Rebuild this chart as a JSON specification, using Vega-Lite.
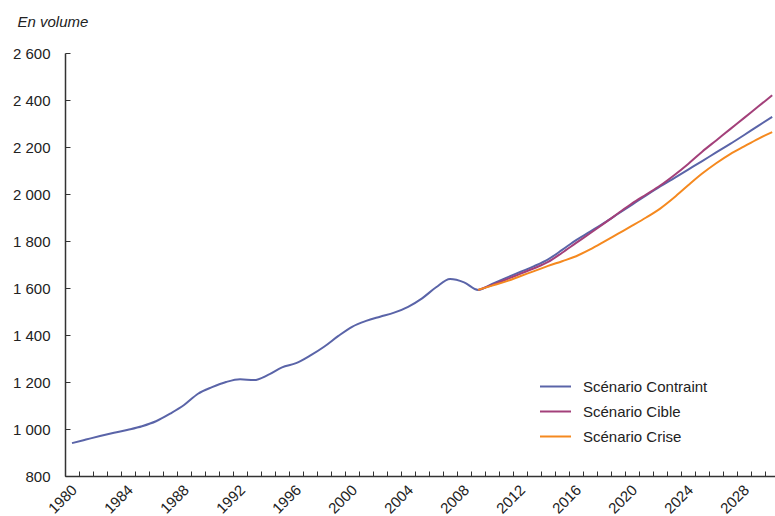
{
  "$schema": "https://vega.github.io/schema/vega-lite/v6.json",
  "width": 710,
  "height": 423,
  "autosize": {"type": "none"},
  "padding": {"left": 65, "top": 53, "right": 0, "bottom": 40},
  "background": "white",
  "config": {
    "view": {"stroke": null},
    "font": "Liberation Sans, Arial, sans-serif"
  },
  "data": {
    "values": [
      {"year": 1980, "value": 940, "series": "Scénario Contraint"},
      {"year": 1981, "value": 955, "series": "Scénario Contraint"},
      {"year": 1982, "value": 970, "series": "Scénario Contraint"},
      {"year": 1983, "value": 984, "series": "Scénario Contraint"},
      {"year": 1984, "value": 997, "series": "Scénario Contraint"},
      {"year": 1985, "value": 1012, "series": "Scénario Contraint"},
      {"year": 1986, "value": 1033, "series": "Scénario Contraint"},
      {"year": 1987, "value": 1065, "series": "Scénario Contraint"},
      {"year": 1988, "value": 1102, "series": "Scénario Contraint"},
      {"year": 1989, "value": 1150, "series": "Scénario Contraint"},
      {"year": 1990, "value": 1178, "series": "Scénario Contraint"},
      {"year": 1991, "value": 1200, "series": "Scénario Contraint"},
      {"year": 1992, "value": 1212, "series": "Scénario Contraint"},
      {"year": 1993, "value": 1208, "series": "Scénario Contraint"},
      {"year": 1994, "value": 1230, "series": "Scénario Contraint"},
      {"year": 1995, "value": 1262, "series": "Scénario Contraint"},
      {"year": 1996, "value": 1280, "series": "Scénario Contraint"},
      {"year": 1997, "value": 1312, "series": "Scénario Contraint"},
      {"year": 1998, "value": 1350, "series": "Scénario Contraint"},
      {"year": 1999, "value": 1395, "series": "Scénario Contraint"},
      {"year": 2000, "value": 1435, "series": "Scénario Contraint"},
      {"year": 2001, "value": 1460, "series": "Scénario Contraint"},
      {"year": 2002, "value": 1478, "series": "Scénario Contraint"},
      {"year": 2003, "value": 1495, "series": "Scénario Contraint"},
      {"year": 2004, "value": 1520, "series": "Scénario Contraint"},
      {"year": 2005, "value": 1556, "series": "Scénario Contraint"},
      {"year": 2006, "value": 1603, "series": "Scénario Contraint"},
      {"year": 2007, "value": 1638, "series": "Scénario Contraint"},
      {"year": 2008, "value": 1624, "series": "Scénario Contraint"},
      {"year": 2009, "value": 1592, "series": "Scénario Contraint"},
      {"year": 2010, "value": 1617, "series": "Scénario Contraint"},
      {"year": 2011, "value": 1643, "series": "Scénario Contraint"},
      {"year": 2012, "value": 1668, "series": "Scénario Contraint"},
      {"year": 2013, "value": 1693, "series": "Scénario Contraint"},
      {"year": 2014, "value": 1722, "series": "Scénario Contraint"},
      {"year": 2015, "value": 1762, "series": "Scénario Contraint"},
      {"year": 2016, "value": 1804, "series": "Scénario Contraint"},
      {"year": 2017, "value": 1840, "series": "Scénario Contraint"},
      {"year": 2018, "value": 1877, "series": "Scénario Contraint"},
      {"year": 2019, "value": 1916, "series": "Scénario Contraint"},
      {"year": 2020, "value": 1955, "series": "Scénario Contraint"},
      {"year": 2021, "value": 1994, "series": "Scénario Contraint"},
      {"year": 2022, "value": 2032, "series": "Scénario Contraint"},
      {"year": 2023, "value": 2068, "series": "Scénario Contraint"},
      {"year": 2024, "value": 2104, "series": "Scénario Contraint"},
      {"year": 2025, "value": 2140, "series": "Scénario Contraint"},
      {"year": 2026, "value": 2177, "series": "Scénario Contraint"},
      {"year": 2027, "value": 2213, "series": "Scénario Contraint"},
      {"year": 2028, "value": 2251, "series": "Scénario Contraint"},
      {"year": 2029, "value": 2290, "series": "Scénario Contraint"},
      {"year": 2030, "value": 2328, "series": "Scénario Contraint"},
      {"year": 2009, "value": 1592, "series": "Scénario Cible"},
      {"year": 2010, "value": 1613, "series": "Scénario Cible"},
      {"year": 2011, "value": 1636, "series": "Scénario Cible"},
      {"year": 2012, "value": 1660, "series": "Scénario Cible"},
      {"year": 2013, "value": 1684, "series": "Scénario Cible"},
      {"year": 2014, "value": 1711, "series": "Scénario Cible"},
      {"year": 2015, "value": 1750, "series": "Scénario Cible"},
      {"year": 2016, "value": 1792, "series": "Scénario Cible"},
      {"year": 2017, "value": 1833, "series": "Scénario Cible"},
      {"year": 2018, "value": 1875, "series": "Scénario Cible"},
      {"year": 2019, "value": 1918, "series": "Scénario Cible"},
      {"year": 2020, "value": 1960, "series": "Scénario Cible"},
      {"year": 2021, "value": 1998, "series": "Scénario Cible"},
      {"year": 2022, "value": 2036, "series": "Scénario Cible"},
      {"year": 2023, "value": 2080, "series": "Scénario Cible"},
      {"year": 2024, "value": 2128, "series": "Scénario Cible"},
      {"year": 2025, "value": 2180, "series": "Scénario Cible"},
      {"year": 2026, "value": 2228, "series": "Scénario Cible"},
      {"year": 2027, "value": 2276, "series": "Scénario Cible"},
      {"year": 2028, "value": 2324, "series": "Scénario Cible"},
      {"year": 2029, "value": 2372, "series": "Scénario Cible"},
      {"year": 2030, "value": 2420, "series": "Scénario Cible"},
      {"year": 2009, "value": 1592, "series": "Scénario Crise"},
      {"year": 2010, "value": 1610, "series": "Scénario Crise"},
      {"year": 2011, "value": 1628, "series": "Scénario Crise"},
      {"year": 2012, "value": 1650, "series": "Scénario Crise"},
      {"year": 2013, "value": 1672, "series": "Scénario Crise"},
      {"year": 2014, "value": 1694, "series": "Scénario Crise"},
      {"year": 2015, "value": 1714, "series": "Scénario Crise"},
      {"year": 2016, "value": 1735, "series": "Scénario Crise"},
      {"year": 2017, "value": 1764, "series": "Scénario Crise"},
      {"year": 2018, "value": 1797, "series": "Scénario Crise"},
      {"year": 2019, "value": 1831, "series": "Scénario Crise"},
      {"year": 2020, "value": 1865, "series": "Scénario Crise"},
      {"year": 2021, "value": 1900, "series": "Scénario Crise"},
      {"year": 2022, "value": 1938, "series": "Scénario Crise"},
      {"year": 2023, "value": 1985, "series": "Scénario Crise"},
      {"year": 2024, "value": 2037, "series": "Scénario Crise"},
      {"year": 2025, "value": 2087, "series": "Scénario Crise"},
      {"year": 2026, "value": 2131, "series": "Scénario Crise"},
      {"year": 2027, "value": 2170, "series": "Scénario Crise"},
      {"year": 2028, "value": 2203, "series": "Scénario Crise"},
      {"year": 2029, "value": 2235, "series": "Scénario Crise"},
      {"year": 2030, "value": 2263, "series": "Scénario Crise"}
    ]
  },
  "mark": {"type": "line", "interpolate": "monotone", "strokeWidth": 2},
  "encoding": {
    "x": {
      "field": "year",
      "type": "quantitative",
      "scale": {"domain": [1979.5, 2030.2], "nice": false, "zero": false},
      "axis": {
        "title": null,
        "grid": false,
        "values": [1979.5, 1980.5, 1981.5, 1982.5, 1983.5, 1984.5, 1985.5, 1986.5, 1987.5, 1988.5, 1989.5, 1990.5, 1991.5, 1992.5, 1993.5, 1994.5, 1995.5, 1996.5, 1997.5, 1998.5, 1999.5, 2000.5, 2001.5, 2002.5, 2003.5, 2004.5, 2005.5, 2006.5, 2007.5, 2008.5, 2009.5, 2010.5, 2011.5, 2012.5, 2013.5, 2014.5, 2015.5, 2016.5, 2017.5, 2018.5, 2019.5, 2020.5, 2021.5, 2022.5, 2023.5, 2024.5, 2025.5, 2026.5, 2027.5, 2028.5, 2029.5],
        "labelExpr": "(datum.value + 0.5 - 1980) % 4 == 0 ? format(datum.value + 0.5, 'd') : ''",
        "labelOffset": 4,
        "labelAngle": -45,
        "labelFontSize": 15,
        "labelColor": "#222222",
        "labelPadding": 11,
        "tickSize": -5,
        "tickColor": "#333333",
        "domainColor": "#333333",
        "domainWidth": 1.5,
        "labelOverlap": false,
        "labelFlush": false
      }
    },
    "y": {
      "field": "value",
      "type": "quantitative",
      "scale": {"domain": [800, 2600], "nice": false, "zero": false},
      "axis": {
        "values": [800, 1000, 1200, 1400, 1600, 1800, 2000, 2200, 2400, 2600],
        "labelExpr": "replace(format(datum.value, ','), ',', ' ')",
        "grid": false,
        "tickSize": -5,
        "tickColor": "#333333",
        "domainColor": "#333333",
        "domainWidth": 1.5,
        "labelFontSize": 15,
        "labelColor": "#222222",
        "labelPadding": 20,
        "title": "En volume",
        "titleAngle": 0,
        "titleX": -48,
        "titleY": -27,
        "titleAlign": "left",
        "titleBaseline": "alphabetic",
        "titleFontStyle": "italic",
        "titleFontWeight": "normal",
        "titleFontSize": 15,
        "titleColor": "#222222"
      }
    },
    "color": {
      "field": "series",
      "type": "nominal",
      "scale": {
        "domain": ["Scénario Contraint", "Scénario Cible", "Scénario Crise"],
        "range": ["#5a64a8", "#a3407a", "#f5891f"]
      },
      "legend": {
        "title": null,
        "orient": "none",
        "legendX": 474,
        "legendY": 317,
        "symbolType": "stroke",
        "symbolSize": 961,
        "symbolStrokeWidth": 2,
        "labelFontSize": 15,
        "labelColor": "#222222",
        "labelOffset": 11,
        "rowPadding": -1.5
      }
    }
  }
}
